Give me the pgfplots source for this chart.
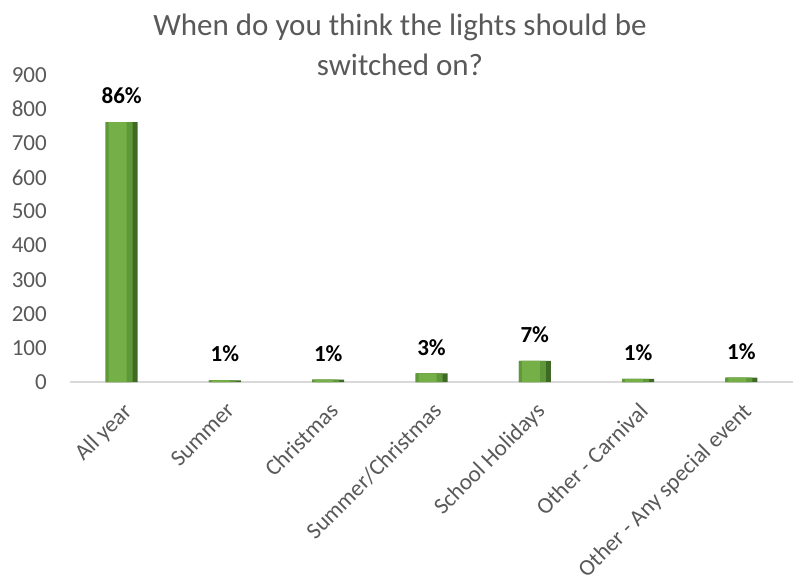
\documentclass[border=0pt]{standalone}
\usepackage{pgfplots}
\pgfplotsset{compat=1.18}
\usepackage{fontspec}
\setmainfont{Carlito}
\definecolor{txt}{HTML}{595959}
\definecolor{axl}{HTML}{D9D9D9}
\definecolor{gDark}{HTML}{3F6A25}
\definecolor{gBody}{HTML}{5F9838}
\definecolor{gLight}{HTML}{74B047}
\pgfplotstableread{
x  y   lab
0  762 86\%
1  5   1\%
2  7   1\%
3  25  3\%
4  62  7\%
5  9   1\%
6  13  1\%
}\datatable
\begin{document}
\begin{tikzpicture}
\begin{axis}[name=ax, scale only axis, width=723pt, height=307pt,
  xmin=-0.5, xmax=6.5, ymin=0, ymax=900,
  ytick={0,100,...,900},
  xtick={0,...,6},
  xticklabels={All year, Summer, Christmas, Summer/Christmas, School Holidays, Other - Carnival, Other - Any special event},
  axis x line*=bottom, axis y line*=left,
  y axis line style={draw=none},
  x axis line style={draw=axl, line width=1.5pt, -},
  major tick length=0pt,
  tick label style={font=\fontsize{23}{27}\selectfont, text=txt},
  xticklabel style={yshift=-19pt, rotate=45, anchor=north east, inner sep=0pt},
  yticklabel style={anchor=east, inner sep=0pt, xshift=-23pt},
  /pgf/number format/assume math mode=true,
  clip=false,
]
\addplot[ybar, bar width=32pt, bar shift=0pt, fill=gDark, draw=none] table[x=x, y=y] {\datatable};
\addplot[ybar, bar width=27pt, bar shift=-2.5pt, fill=gBody, draw=none] table[x=x, y=y] {\datatable};
\addplot[ybar, bar width=18pt, bar shift=-4pt, fill=gLight, draw=none,
  nodes near coords, point meta=explicit symbolic,
  nodes near coords style={font=\bfseries\fontsize{23}{27}\selectfont, text=black, anchor=south, inner sep=0pt, yshift=18pt}]
  table[x=x, y=y, meta=lab] {\datatable};
\end{axis}
\node[align=center, anchor=north, inner sep=0pt, font=\fontsize{31}{40}\selectfont, text=txt]
  at ([xshift=330pt, yshift=368pt]ax.south west) {When do you think the lights should be\\switched on?};
\pgfresetboundingbox
\path[use as bounding box] ([xshift=-70pt,yshift=-201pt]ax.south west) rectangle ([xshift=7pt,yshift=75pt]ax.north east);
\end{tikzpicture}
\end{document}
